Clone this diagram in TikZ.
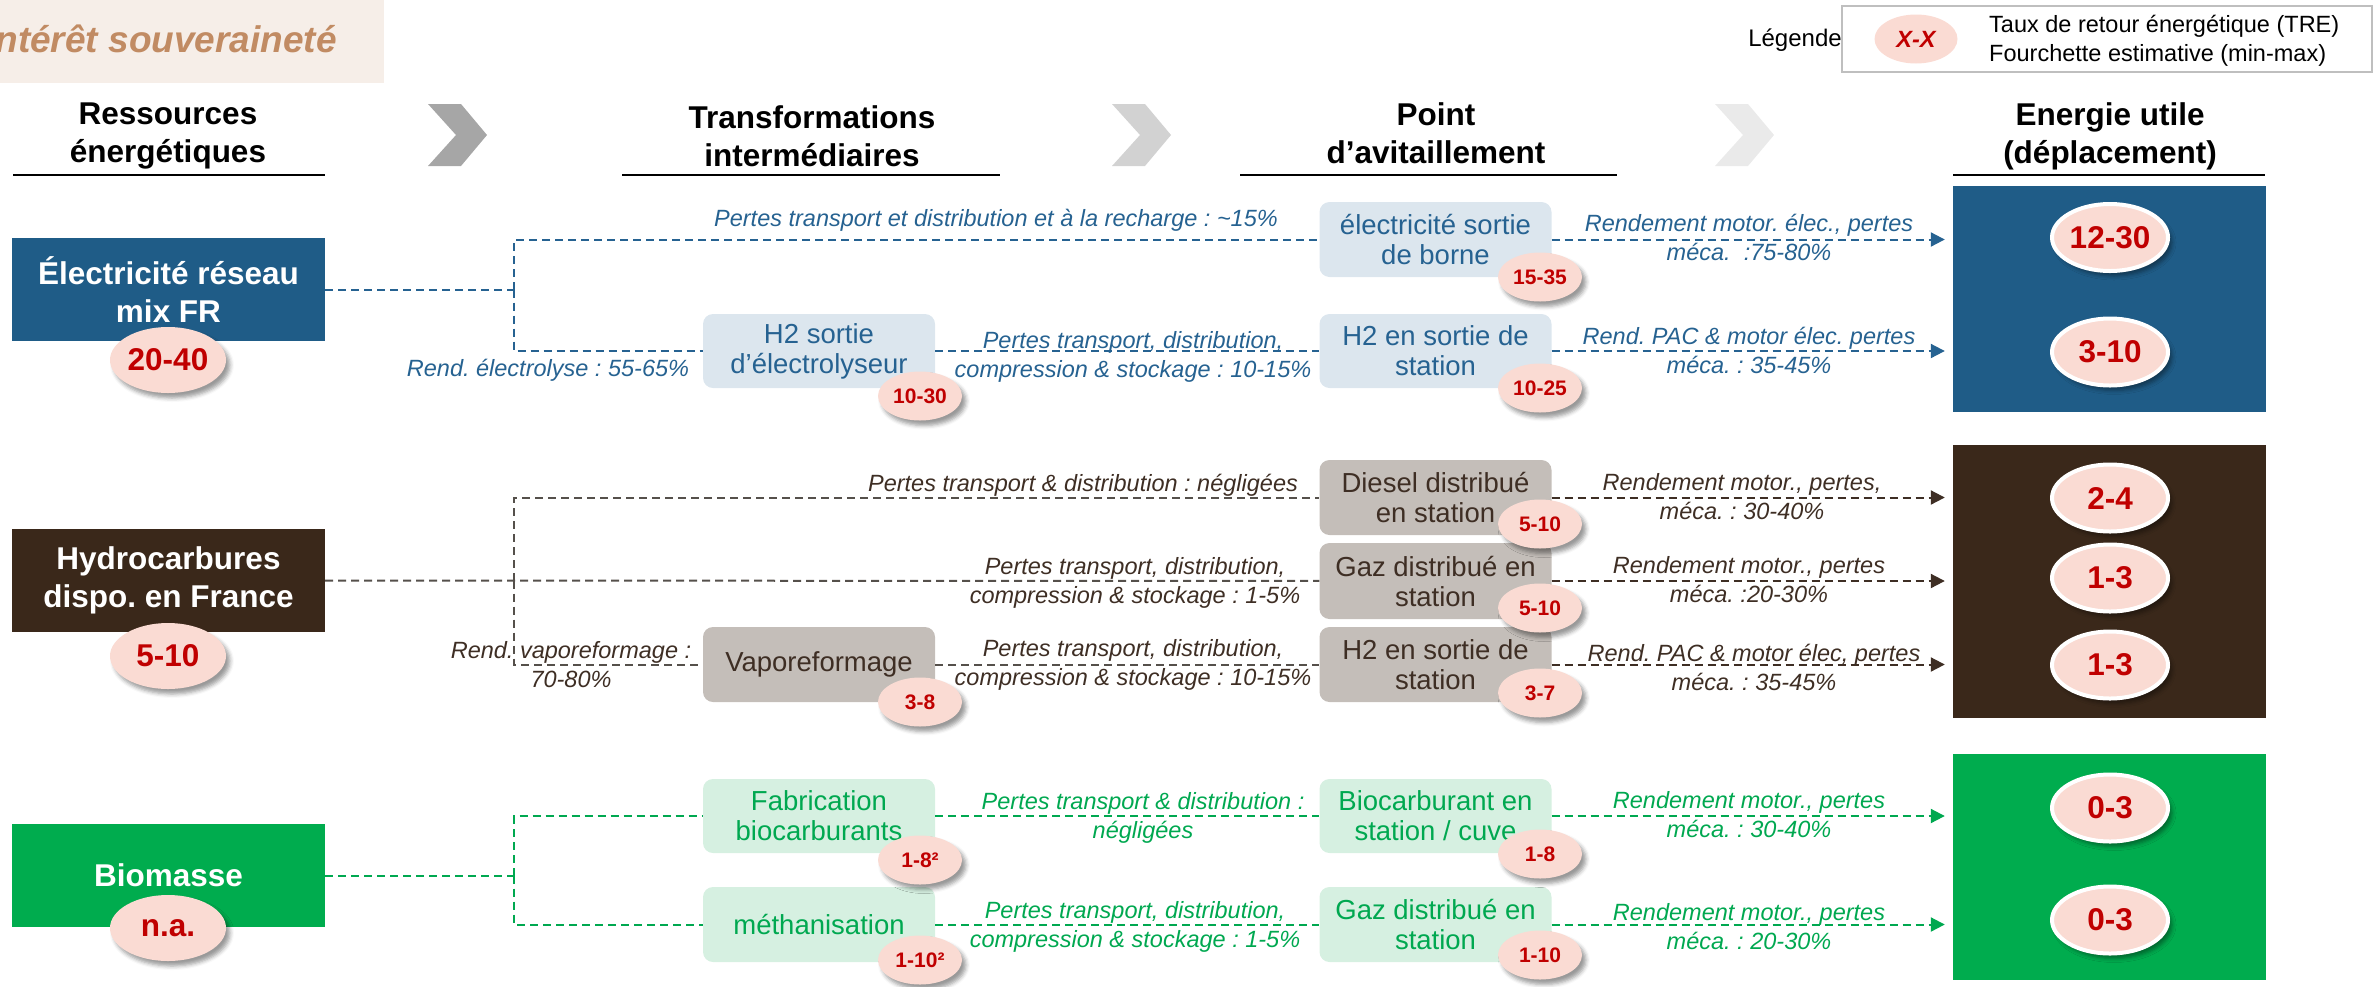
\documentclass[tikz,border=0pt]{standalone}
\usepackage{fontspec}
\setmainfont{Liberation Sans}
\usetikzlibrary{shapes.geometric,shadows.blur,arrows.meta}

\definecolor{elecbox}{RGB}{31,92,135}
\definecolor{electxt}{RGB}{38,98,145}
\definecolor{eleclight}{RGB}{220,230,238}
\definecolor{hydrobox}{RGB}{58,40,26}
\definecolor{hydrotxt}{RGB}{62,46,36}
\definecolor{hydrolight}{RGB}{196,190,185}
\definecolor{hydroline}{RGB}{85,80,75}
\definecolor{biobox}{RGB}{0,172,78}
\definecolor{biotxt}{RGB}{0,168,80}
\definecolor{biolight}{RGB}{214,240,225}
\definecolor{trefill}{RGB}{250,219,211}
\definecolor{trered}{RGB}{192,0,0}
\definecolor{souvfill}{RGB}{246,238,232}
\definecolor{souvtxt}{RGB}{193,139,99}
\definecolor{chevA}{RGB}{166,166,166}
\definecolor{chevB}{RGB}{210,210,210}
\definecolor{chevC}{RGB}{234,234,234}

\begin{document}
\frenchspacing
\begin{tikzpicture}[x=1pt,y=-1pt,
  head/.style={align=center,inner sep=0,font=\fontsize{31.5}{38}\selectfont\bfseries},
  srcbox/.style={minimum width=313pt,minimum height=103pt,inner sep=0,align=center,text=white,
    font=\fontsize{31.5}{38}\selectfont\bfseries},
  midbox/.style={rounded corners=10pt,minimum width=232pt,minimum height=75pt,inner sep=0,
    align=center,font=\fontsize{27.5}{30}\selectfont},
  tgtbox/.style={minimum width=313pt,inner sep=0},
  tre/.style={ellipse,fill=trefill,text=trered,inner sep=0},
  shade/.style={blur shadow={shadow xshift=4pt,shadow yshift=-5pt,shadow blur radius=4pt,
    shadow opacity=40}},
  bigtre/.style={tre,shade,minimum width=116pt,minimum height=66pt,
    font=\fontsize{31.5}{36}\selectfont\bfseries},
  smalltre/.style={tre,shade,minimum width=84pt,minimum height=49pt,
    font=\fontsize{21}{24}\selectfont\bfseries},
  tgttre/.style={tre,shade,draw=white,line width=4pt,minimum width=116pt,minimum height=67pt,
    font=\fontsize{31.5}{36}\selectfont\bfseries},
  lbl/.style={align=center,inner sep=0,font=\fontsize{23.5}{29}\selectfont\itshape},
  flow/.style={line width=2pt,dash pattern=on 8pt off 5pt},
  gain/.style={flow,-{Triangle[length=14pt,width=14pt]},shorten >=8pt}
]
\useasboundingbox (0,0) rectangle (2377,986);

% Title corner and legend
\fill[souvfill] (0,0) rectangle (384,83);
\node[anchor=base east,inner sep=0,text=souvtxt,font=\fontsize{37}{40}\selectfont\bfseries\itshape]
  (souv) at (337,52) {ntérêt souveraineté};
\node[inner sep=0,font=\fontsize{24}{28}\selectfont] (legtitle) at (1795,40) {Légende};
\draw[gray!50,line width=1.5pt] (1842,6) rectangle (2372,72);
\node[tre,minimum width=83pt,minimum height=49pt,font=\fontsize{23.5}{28}\selectfont\bfseries\itshape]
  (legtre) at (1916,39) {X-X};
\node[anchor=west,align=left,inner sep=0,font=\fontsize{23.5}{29}\selectfont]
  (legtxt) at (1989,41) {Taux de retour énergétique (TRE)\\Fourchette estimative (min-max)};

% Column headings, underlines and chevrons
\node[head] (hres) at (168,136) {Ressources\\énergétiques};
\node[head] (htrans) at (812,136) {Transformations\\intermédiaires};
\node[head] (hpoint) at (1436,133) {Point\\d’avitaillement};
\node[head] (hutile) at (2110,136) {Energie utile\\(déplacement)};
\foreach \xa/\xb in {13/325,622/1000,1240/1617,1953/2265}
  \draw[line width=2.5pt] (\xa,175) -- (\xb,175);
\foreach \cx/\cc in {428/chevA,1112/chevB,1715/chevC}
  \fill[\cc] (\cx,104) -- ++(33,0) -- ++(26,31) -- ++(-26,31) -- ++(-33,0) -- ++(28,-31) -- cycle;

% Resources
\node[srcbox,fill=elecbox] (esrc) at (168.5,289.5) {Électricité réseau\\mix FR};
\node[srcbox,fill=hydrobox] (hsrc) at (168.5,580.5) {Hydrocarbures\\dispo. en France};
\node[srcbox,fill=biobox] (bsrc) at (168.5,875.5) {Biomasse};

% Transformations and refuelling points
\node[midbox,fill=eleclight,text=electxt] (eborne) at (1435.5,239.5) {électricité sortie\\de borne};
\node[midbox,fill=eleclight,text=electxt,minimum height=74pt] (eh2) at (819,351) {H2 sortie\\d’électrolyseur};
\node[midbox,fill=eleclight,text=electxt,minimum height=74pt] (eh2st) at (1435.5,351) {H2 en sortie de\\station};
\node[midbox,fill=hydrolight,text=hydrotxt] (hdiesel) at (1435.5,497.5) {Diesel distribué\\en station};
\node[midbox,fill=hydrolight,text=hydrotxt,minimum height=76pt] (hgaz) at (1435.5,581) {Gaz distribué en\\station};
\node[midbox,fill=hydrolight,text=hydrotxt] (hvapo) at (819,664.5) {Vaporeformage};
\node[midbox,fill=hydrolight,text=hydrotxt] (hh2) at (1435.5,664.5) {H2 en sortie de\\station};
\node[midbox,fill=biolight,text=biotxt,minimum height=74pt] (bfab) at (819,816) {Fabrication\\biocarburants};
\node[midbox,fill=biolight,text=biotxt] (bmeth) at (819,924.5) {méthanisation};
\node[midbox,fill=biolight,text=biotxt,minimum height=74pt] (bbio) at (1435.5,816) {Biocarburant en\\station / cuve};
\node[midbox,fill=biolight,text=biotxt] (bgaz) at (1435.5,924.5) {Gaz distribué en\\station};

% Useful energy
\node[tgtbox,fill=elecbox,minimum height=226pt] (etgt) at (2109.5,299) {};
\node[tgtbox,fill=hydrobox,minimum height=273pt] (htgt) at (2109.5,581.5) {};
\node[tgtbox,fill=biobox,minimum height=226pt] (btgt) at (2109.5,867) {};

% Junctions
\coordinate (ej) at (514,289.5);
\coordinate (hj) at (514,580.5);
\coordinate (bj) at (514,875.5);

% Draw electricity flows
\draw[flow,electxt] (esrc) -- (ej);
\draw[flow,electxt] (ej) |- (eborne);
\draw[flow,electxt] (ej) |- (eh2);
\draw[flow,electxt] (eh2) -- (eh2st);
\draw[gain,electxt] (eborne) -- (eborne -| etgt.west);
\draw[gain,electxt] (eh2st) -- (eh2st -| etgt.west);

% Draw hydrocarbon flows
\draw[flow,hydroline] (hsrc) -- (hgaz);
\draw[flow,hydroline] (hj) |- (hdiesel);
\draw[flow,hydroline] (hj) |- (hvapo);
\draw[flow,hydroline] (hvapo) -- (hh2);
\draw[gain,hydrotxt] (hdiesel) -- (hdiesel -| htgt.west);
\draw[gain,hydrotxt] (hgaz) -- (hgaz -| htgt.west);
\draw[gain,hydrotxt] (hh2) -- (hh2 -| htgt.west);

% Draw biomass flows
\draw[flow,biotxt] (bsrc) -- (bj);
\draw[flow,biotxt] (bj) |- (bfab);
\draw[flow,biotxt] (bj) |- (bmeth);
\draw[flow,biotxt] (bfab) -- (bbio);
\draw[flow,biotxt] (bmeth) -- (bgaz);
\draw[gain,biotxt] (bbio) -- (bbio -| btgt.west);
\draw[gain,biotxt] (bgaz) -- (bgaz -| btgt.west);

% Flow labels
\node[lbl,text=electxt] (lborne) at (996,220) {Pertes transport et distribution et à la recharge : \textasciitilde15\%};
\node[lbl,text=electxt] (lelyse) at (548,370) {Rend. électrolyse : 55-65\%};
\node[lbl,text=electxt] (leh2) at (1133,357) {Pertes transport, distribution,\\compression \& stockage : 10-15\%};
\node[lbl,text=electxt] (lgborne) at (1749,237) {Rendement motor. élec., pertes\\méca.\ \ :75-80\%};
\node[lbl,text=electxt] (lgeh2) at (1749,350) {Rend. PAC \& motor élec. pertes\\méca. : 35-45\%};
\node[lbl,text=hydrotxt] (ldiesel) at (1083,485) {Pertes transport \& distribution : négligées};
\node[lbl,text=hydrotxt] (lgaz) at (1135,583) {Pertes transport, distribution,\\compression \& stockage : 1-5\%};
\node[lbl,text=hydrotxt] (lvapo) at (571,665) {Rend. vaporeformage :\\70-80\%};
\node[lbl,text=hydrotxt] (lhh2) at (1133,665) {Pertes transport, distribution,\\compression \& stockage : 10-15\%};
\node[lbl,text=hydrotxt] (lgdiesel) at (1742,497) {Rendement motor., pertes,\\méca. : 30-40\%};
\node[lbl,text=hydrotxt] (lggaz) at (1749,580) {Rendement motor., pertes\\méca. :20-30\%};
\node[lbl,text=hydrotxt] (lghh2) at (1754,667) {Rend. PAC \& motor élec, pertes\\méca. : 35-45\%};
\node[lbl,text=biotxt] (lbio) at (1143,818) {Pertes transport \& distribution :\\négligées};
\node[lbl,text=biotxt] (lbgaz) at (1135,927) {Pertes transport, distribution,\\compression \& stockage : 1-5\%};
\node[lbl,text=biotxt] (lgbio) at (1749,815) {Rendement motor., pertes\\méca. : 30-40\%};
\node[lbl,text=biotxt] (lgbgaz) at (1749,927) {Rendement motor., pertes\\méca. : 20-30\%};

% TRE ranges
\node[bigtre] (esrctre) at (168,360) {20-40};
\node[bigtre] (hsrctre) at (168,656) {5-10};
\node[bigtre] (bsrctre) at (168,928) {n.a.};
\node[smalltre] (eh2tre) at (920,396) {10-30};
\node[smalltre] (ebornetre) at (1540,277) {15-35};
\node[smalltre] (eh2sttre) at (1540,388) {10-25};
\node[smalltre] (hdieseltre) at (1540,524) {5-10};
\node[smalltre] (hgaztre) at (1540,608) {5-10};
\node[smalltre] (hvapotre) at (920,702) {3-8};
\node[smalltre] (hh2tre) at (1540,693) {3-7};
\node[smalltre] (bfabtre) at (920,860) {1-8²};
\node[smalltre] (bbiotre) at (1540,854) {1-8};
\node[smalltre] (bmethtre) at (920,960) {1-10²};
\node[smalltre] (bgaztre) at (1540,955) {1-10};
\node[tgttre] (etgtA) at (2110,237.5) {12-30};
\node[tgttre] (etgtB) at (2110,352) {3-10};
\node[tgttre] (htgtA) at (2110,498) {2-4};
\node[tgttre] (htgtB) at (2110,578) {1-3};
\node[tgttre] (htgtC) at (2110,665) {1-3};
\node[tgttre] (btgtA) at (2110,808) {0-3};
\node[tgttre] (btgtB) at (2110,920) {0-3};

\end{tikzpicture}
\end{document}
